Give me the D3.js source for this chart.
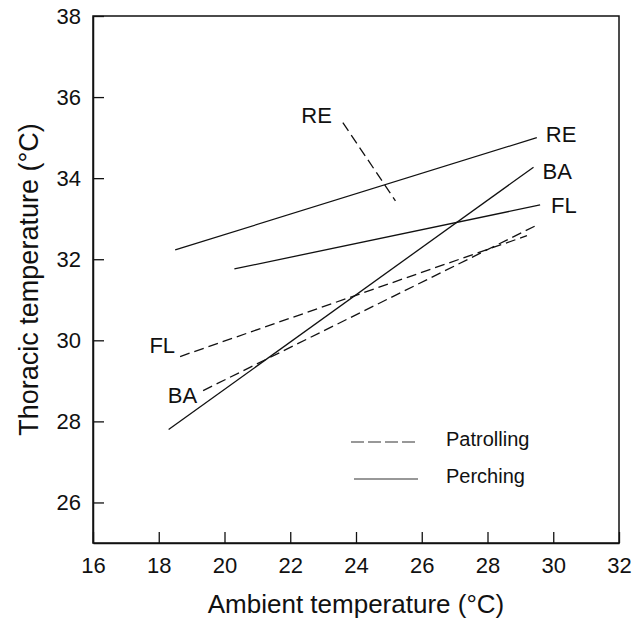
<!DOCTYPE html>
<html>
<head>
<meta charset="utf-8">
<script src="https://cdn.jsdelivr.net/npm/d3@7"></script>
<style>
  html, body { margin: 0; padding: 0; background: #fff; }
  svg text { font-family: "Liberation Sans", Arial, Helvetica, sans-serif; fill: #111; }
</style>
</head>
<body>
<svg id="chart" width="641" height="622"></svg>
<script>
// ---- data ----
const species = ["RE", "BA", "FL"];
// Perching (solid) regression lines: start / end points
const perchX0 = [18.5, 18.3, 20.3];
const perchY0 = [32.23, 27.8, 31.76];
const perchX1 = [29.5, 29.4, 29.6];
const perchY1 = [35.0, 34.27, 33.34];
// Patrolling (dashed) regression lines: start / end points
const patrolX0 = [23.6, 19.35, 18.65];
const patrolY0 = [35.37, 28.76, 29.6];
const patrolX1 = [25.2, 29.55, 29.2];
const patrolY1 = [33.44, 32.86, 32.58];
// axes
const xTicks = [16, 18, 20, 22, 24, 26, 28, 30, 32];
const yTicks = [26, 28, 30, 32, 34, 36, 38];
const xTitle = "Ambient temperature (°C)";
const yTitle = "Thoracic temperature (°C)";
const legendLabels = ["Patrolling", "Perching"];

// ---- layout ----
const svg = d3.select("#chart");
const x = d3.scaleLinear().domain([16, 32]).range([93, 619]);
const y = d3.scaleLinear().domain([25, 38]).range([543, 16]);
const ink = "#111";

// frame
svg.append("rect")
  .attr("x", x(16)).attr("y", y(38))
  .attr("width", x(32) - x(16)).attr("height", y(25) - y(38))
  .attr("fill", "none").attr("stroke", ink).attr("stroke-width", 1.5);

// axes
const xAxis = d3.axisBottom(x).tickValues(xTicks).tickSizeInner(-11).tickSizeOuter(0).tickPadding(14).tickFormat(d3.format("d"));
const gx = svg.append("g").attr("transform", `translate(0,${y(25)})`).call(xAxis);
const yAxis = d3.axisLeft(y).tickValues(yTicks).tickSizeInner(-11).tickSizeOuter(0).tickPadding(12).tickFormat(d3.format("d"));
const gy = svg.append("g").attr("transform", `translate(${x(16)},0)`).call(yAxis);
[gx, gy].forEach(g => {
  g.select(".domain").attr("stroke", ink).attr("stroke-width", 1.5);
  g.selectAll(".tick line").attr("stroke", ink).attr("stroke-width", 1.3);
  g.selectAll(".tick text").attr("font-size", 22).attr("fill", ink)
    .style("font-family", '"Liberation Sans", Arial, Helvetica, sans-serif');
});

// titles
svg.append("text").attr("x", (x(16) + x(32)) / 2).attr("y", 613)
  .attr("text-anchor", "middle").attr("font-size", 26).text(xTitle);
svg.append("text")
  .attr("transform", `translate(38,${(y(25) + y(38)) / 2}) rotate(-90)`)
  .attr("text-anchor", "middle").attr("font-size", 27).text(yTitle);

// lines
const perch = species.map((s, i) => ({ s, x0: perchX0[i], y0: perchY0[i], x1: perchX1[i], y1: perchY1[i] }));
const patrol = species.map((s, i) => ({ s, x0: patrolX0[i], y0: patrolY0[i], x1: patrolX1[i], y1: patrolY1[i] }));

svg.append("g").selectAll("line").data(perch).join("line")
  .attr("x1", d => x(d.x0)).attr("y1", d => y(d.y0))
  .attr("x2", d => x(d.x1)).attr("y2", d => y(d.y1))
  .attr("stroke", ink).attr("stroke-width", 1.3);

svg.append("g").selectAll("line").data(patrol).join("line")
  .attr("x1", d => x(d.x0)).attr("y1", d => y(d.y0))
  .attr("x2", d => x(d.x1)).attr("y2", d => y(d.y1))
  .attr("stroke", ink).attr("stroke-width", 1.3).attr("stroke-dasharray", "10,5");

// labels: perching at right end, patrolling at left start
const perchOff = { RE: [9, 4], BA: [9, 12], FL: [11, 8] };
const patrolOff = { RE: [-11, 0], BA: [-6, 12], FL: [-5, -4] };
svg.append("g").selectAll("text").data(perch).join("text")
  .attr("x", d => x(d.x1) + perchOff[d.s][0]).attr("y", d => y(d.y1) + perchOff[d.s][1])
  .attr("font-size", 22).text(d => d.s);
svg.append("g").selectAll("text").data(patrol).join("text")
  .attr("x", d => x(d.x0) + patrolOff[d.s][0]).attr("y", d => y(d.y0) + patrolOff[d.s][1])
  .attr("text-anchor", "end").attr("font-size", 22).text(d => d.s);

// legend
const lg = svg.append("g");
const legY = [442, 479];
const legDash = ["13,4", null];
legendLabels.forEach((lab, i) => {
  lg.append("line").attr("x1", i === 0 ? 351 : 354).attr("x2", 418)
    .attr("y1", legY[i]).attr("y2", legY[i])
    .attr("stroke", "#333").attr("stroke-width", 1.1)
    .attr("stroke-dasharray", legDash[i]);
  lg.append("text").attr("x", 446).attr("y", legY[i] + 4)
    .attr("font-size", 20).text(lab);
});
</script>
</body>
</html>
